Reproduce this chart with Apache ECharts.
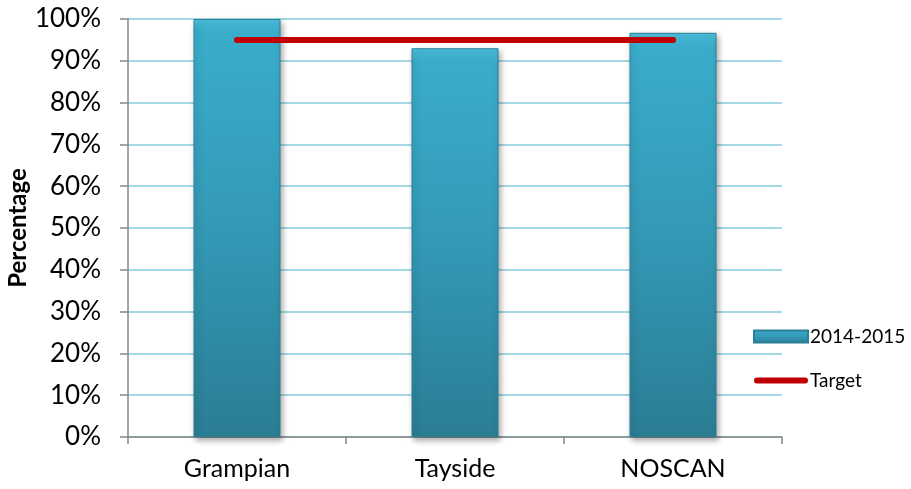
<!DOCTYPE html>
<html>
<head>
<meta charset="utf-8">
<script src="https://cdn.jsdelivr.net/npm/echarts@6/dist/echarts.min.js"></script>
<style>
  html, body { margin: 0; padding: 0; background: #fff; }
  #chart { width: 911px; height: 489px; }
</style>
</head>
<body>
<div id="chart"></div>
<script>
// data
var categories = ['Grampian', 'Tayside', 'NOSCAN'];
var values2014 = [100, 93, 96.7];
var targetValues = [95, 95, 95];

var myChart = echarts.init(document.getElementById('chart'));
myChart.setOption({
  animation: false,
  textStyle: { fontFamily: 'Lato' },
  grid: { left: 128, right: 129, top: 19, bottom: 52, outerBoundsMode: 'none' },
  legend: {
    orient: 'vertical',
    left: 753,
    top: 327,
    padding: 0,
    itemWidth: 54,
    itemHeight: 12,
    itemGap: 25,
    textStyle: { fontSize: 19, lineHeight: 18, color: '#000', padding: [0, 0, 0, -3] },
    data: [
      { name: '2014-2015', icon: 'rect' },
      { name: 'Target', icon: 'path://M3,0 L52,0 A3,3 0 0 1 52,6 L3,6 A3,3 0 0 1 3,0 Z' }
    ]
  },
  xAxis: {
    type: 'category',
    data: categories,
    axisLine: { lineStyle: { color: '#868686', width: 1.5 } },
    axisTick: { show: true, length: 7, lineStyle: { color: '#868686', width: 1.5 } },
    axisLabel: { color: '#000', fontSize: 25, margin: 19 }
  },
  yAxis: {
    type: 'value',
    min: 0,
    max: 100,
    interval: 10,
    name: 'Percentage',
    nameLocation: 'middle',
    nameGap: 98,
    nameMoveOverlap: false,
    nameTextStyle: { fontSize: 24, fontWeight: 'bold', color: '#000' },
    axisLine: { show: true, lineStyle: { color: '#868686', width: 1.5 } },
    axisTick: { show: true, length: 8, lineStyle: { color: '#868686', width: 1.5 } },
    axisLabel: { color: '#000', fontSize: 26, margin: 27, formatter: '{value}%' },
    splitLine: { lineStyle: { color: '#86cbdd', width: 1.5 } }
  },
  series: [
    {
      name: '2014-2015',
      type: 'bar',
      data: values2014,
      barWidth: 87,
      itemStyle: {
        color: new echarts.graphic.LinearGradient(0, 0, 0, 1, [
          { offset: 0, color: '#4cc2e0' },
          { offset: 0.03, color: '#3aadcc' },
          { offset: 0.5, color: '#3399b6' },
          { offset: 1, color: '#2b7d93' }
        ]),
        borderColor: '#2c7f95',
        borderWidth: 1,
        shadowColor: 'rgba(0,0,0,0.35)',
        shadowBlur: 6,
        shadowOffsetX: 2,
        shadowOffsetY: 3
      },
      z: 2
    },
    {
      name: 'Target',
      type: 'line',
      data: targetValues,
      symbol: 'none',
      lineStyle: { color: '#c00000', width: 6, cap: 'round' },
      itemStyle: { color: '#c00000' },
      z: 3
    }
  ]
});
</script>
</body>
</html>
